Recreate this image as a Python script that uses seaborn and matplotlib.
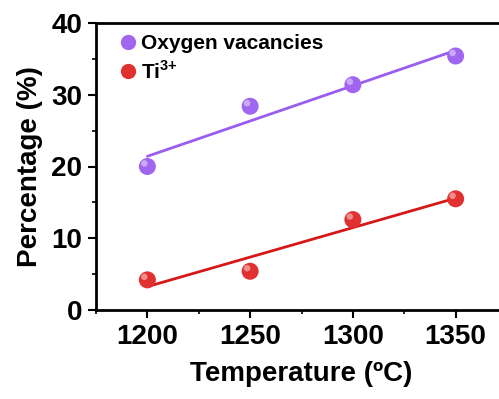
import matplotlib
matplotlib.use("Agg")
import matplotlib.pyplot as plt
from matplotlib.ticker import MultipleLocator
from matplotlib.lines import Line2D
import matplotlib.transforms as mtransforms
import seaborn as sns
import pandas as pd

temperature = [1200, 1250, 1300, 1350]
oxygen_vacancies = [20.0, 28.4, 31.4, 35.4]
ti3 = [4.2, 5.4, 12.6, 15.5]
series_labels = ["Oxygen vacancies", r"Ti$^{\mathbf{3{+}}}$"]
x_ticks = [1200, 1250, 1300, 1350]
y_ticks = [0, 10, 20, 30, 40]

sns.set_style("ticks")
plt.rcParams['font.family'] = ['Liberation Sans', 'DejaVu Sans']
plt.rcParams['font.weight'] = 'bold'
plt.rcParams['text.color'] = 'black'
plt.rcParams['axes.labelcolor'] = 'black'
plt.rcParams['xtick.color'] = 'black'
plt.rcParams['ytick.color'] = 'black'
plt.rcParams['mathtext.fontset'] = 'custom'
plt.rcParams['mathtext.rm'] = 'Liberation Sans:bold'
plt.rcParams['mathtext.bf'] = 'Liberation Sans:bold'

fig = plt.figure(figsize=(4.99, 3.99), dpi=100)
ax = fig.add_axes([96/499, 89/399, 411/499, 287/399])

df_o = pd.DataFrame({"T": temperature, "P": oxygen_vacancies})
df_t = pd.DataFrame({"T": temperature, "P": ti3})

purple_line = "#9b5cf0"
purple_dot = "#a066f0"
red_line = "#d51818"
red_dot = "#e03030"

sns.regplot(data=df_o, x="T", y="P", ax=ax, scatter=False, ci=None,
            line_kws=dict(color=purple_line, lw=2), truncate=True)
sns.regplot(data=df_t, x="T", y="P", ax=ax, scatter=False, ci=None,
            line_kws=dict(color=red_line, lw=2), truncate=True)

hl_trans = mtransforms.offset_copy(ax.transData, fig=fig, x=-2.2, y=2.2, units="points")
for df, c in [(df_o, purple_dot), (df_t, red_dot)]:
    sns.scatterplot(data=df, x="T", y="P", ax=ax, s=150, color=c,
                    edgecolor="none", zorder=5)
    n_before = len(ax.collections)
    sns.scatterplot(data=df, x="T", y="P", ax=ax, s=22, color="white",
                    alpha=0.45, edgecolor="none", zorder=6)
    for coll in ax.collections[n_before:]:
        coll.set_offset_transform(hl_trans)

ax.set_xlim(1175, 1375)
ax.set_ylim(0, 40)
ax.set_xticks(x_ticks)
ax.set_yticks(y_ticks)
ax.xaxis.set_minor_locator(MultipleLocator(25))
ax.yaxis.set_minor_locator(MultipleLocator(5))
ax.tick_params(which="major", direction="out", length=6, width=1.5,
               labelsize=20, pad=4)
ax.tick_params(which="minor", direction="out", length=3, width=1.2)
for lab in ax.get_xticklabels() + ax.get_yticklabels():
    lab.set_fontweight("bold")

for side in ["left", "bottom", "top"]:
    ax.spines[side].set_linewidth(2)
    ax.spines[side].set_color("black")
ax.spines["right"].set_visible(False)

ax.set_xlabel("Temperature (ºC)", fontsize=20, fontweight="bold", labelpad=8)
ax.set_ylabel("Percentage (%)", fontsize=20, fontweight="bold", labelpad=6)

handles = [
    Line2D([], [], ls="none", marker="o", markersize=11,
           markerfacecolor=purple_dot, markeredgecolor="none"),
    Line2D([], [], ls="none", marker="o", markersize=11,
           markerfacecolor=red_dot, markeredgecolor="none"),
]
ax.legend(handles, series_labels, loc="upper left", frameon=False,
          prop=dict(weight="bold", size=15),
          handletextpad=0.0, borderaxespad=0.15, labelspacing=0.3,
          handlelength=1.2, bbox_to_anchor=(0.02, 1.0))

fig.savefig("out.png", dpi=100)
